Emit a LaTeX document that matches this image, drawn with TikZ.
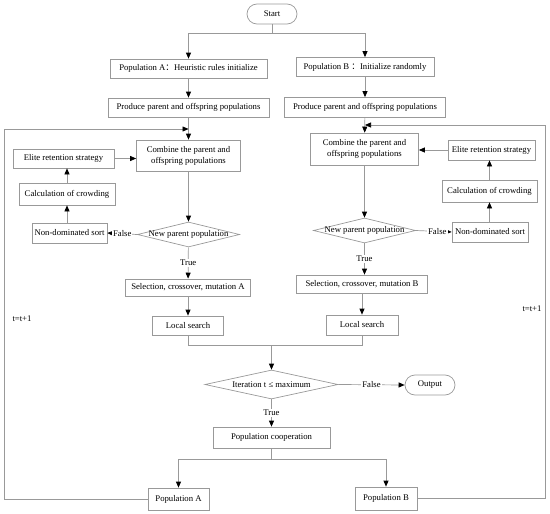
\documentclass[tikz,border=0pt]{standalone}
\usepackage{fontspec}
\setmainfont{Liberation Serif}
\newfontfamily\cjk{Noto Sans CJK SC}
\usetikzlibrary{arrows.meta,shapes.geometric,calc}
\definecolor{lncol}{gray}{0.6}
\begin{document}
\begin{tikzpicture}[x=1pt,y=-1pt,
  every node/.style={font=\fontsize{8.7}{11}\selectfont},
  box/.style={draw=lncol, line width=0.7pt, inner sep=0pt, align=center},
  term/.style={box, rounded corners=10pt},
  dia/.style={draw=lncol, line width=0.7pt, shape=diamond, inner sep=0pt},
  conn/.style={draw=lncol, line width=0.7pt},
  arr/.style={conn, -{Triangle[length=6pt,width=5pt,color=black]}},
  lab/.style={fill=white, inner sep=1pt}
]
\useasboundingbox (0,0) rectangle (550,514);

% top
\node[term, minimum width=50pt, minimum height=20pt] (start) at (272,14) {Start};
\node[box, minimum width=157pt, minimum height=19pt] (popA) at (188.5,68.5) {Population A{\cjk ：}Heuristic rules initialize};
\node[box, minimum width=138pt, minimum height=19pt] (popB) at (365,67) {Population B {\cjk ：}Initialize randomly};
\node[box, minimum width=161pt, minimum height=19pt] (prodA) at (188.5,107.5) {Produce parent and offspring populations};
\node[box, minimum width=161pt, minimum height=20pt] (prodB) at (365,107.5) {Produce parent and offspring populations};

% column A
\node[box, minimum width=104pt, minimum height=31pt] (combA) at (188.5,155.5) {Combine the parent and\\offspring populations};
\node[box, minimum width=101pt, minimum height=19pt] (eliteA) at (63.5,158.5) {Elite retention strategy};
\node[box, minimum width=96pt, minimum height=22pt] (calcA) at (67,194) {Calculation of crowding};
\node[box, minimum width=75pt, minimum height=20pt] (ndA) at (69.5,233) {Non-dominated sort};
\node[dia, minimum width=102pt, minimum height=25pt] (diaA) at (188.5,234.5) {};
\node (diaAt) at (diaA) {New parent population};
\node[box, minimum width=125pt, minimum height=17pt] (selA) at (188,287.5) {Selection, crossover, mutation A};
\node[box, minimum width=71pt, minimum height=19pt] (localA) at (188,325.5) {Local search};

% column B
\node[box, minimum width=108pt, minimum height=32pt] (combB) at (364.5,149) {Combine the parent and\\offspring populations};
\node[box, minimum width=87pt, minimum height=20pt] (eliteB) at (491.5,150) {Elite retention strategy};
\node[box, minimum width=95pt, minimum height=22pt] (calcB) at (489.5,191) {Calculation of crowding};
\node[box, minimum width=76pt, minimum height=20pt] (ndB) at (490,232) {Non-dominated sort};
\node[dia, minimum width=102pt, minimum height=25pt] (diaB) at (364.5,230.5) {};
\node (diaBt) at (diaB) {New parent population};
\node[box, minimum width=131pt, minimum height=18pt] (selB) at (362,284) {Selection, crossover, mutation B};
\node[box, minimum width=72pt, minimum height=20pt] (localB) at (362,325) {Local search};

% bottom
\node[dia, minimum width=133pt, minimum height=29pt] (iter) at (271.5,384.5) {};
\node (itert) at (iter) {Iteration t ≤ maximum};
\node[term, minimum width=50pt, minimum height=20pt] (out) at (430,385) {Output};
\node[box, minimum width=117pt, minimum height=21pt] (coop) at (271.5,437.5) {Population cooperation};
\node[box, minimum width=61pt, minimum height=22pt] (popAf) at (178.5,499) {Population A};
\node[box, minimum width=62pt, minimum height=23pt] (popBf) at (386,498.5) {Population B};

\node (tA) at (22,319) {t=t+1};
\node (tB) at (532,309) {t=t+1};

% coordinates
\coordinate (j1) at (272,33);
\coordinate (jA) at (188.5,129);
\coordinate (cA) at (4,129);
\coordinate (jB) at (365,125);
\coordinate (cB) at (545,125);
\coordinate (m) at (271.5,345);
\coordinate (s) at (271.5,459);

% connectors top
\draw[conn] (start.south) -- (j1);
\draw[arr] (j1) -| (popA.north);
\draw[arr] (j1) -| (popB.north);
\draw[arr] (popA) -- (prodA);
\draw[arr] (popB) -- (prodB);
\draw[arr] (prodA) -- (combA);
\draw[arr] (prodB) -- (combB);

% loop A
\draw[arr] (combA) -- (diaA);
\draw[arr] (diaA.west) -- node[lab] {False} (ndA.east);
\draw[arr] (ndA.north -| calcA.south) -- (calcA.south);
\draw[arr] (calcA) -- (eliteA.south -| calcA.north);
\draw[arr] (eliteA.east) -- (eliteA.east -| combA.west);
\draw[arr] (diaA) -- node[lab] {True} (selA);
\draw[arr] (selA) -- (localA);

% loop B
\draw[arr] (combB) -- (diaB);
\draw[arr] (diaB.east) -- node[lab, pos=0.6] {False} (ndB.west);
\draw[arr] (ndB.north -| calcB.south) -- (calcB.south);
\draw[arr] (calcB) -- (eliteB.south -| calcB.north);
\draw[arr] (eliteB.west) -- (eliteB.west -| combB.east);
\draw[arr] (diaB.south) -- node[lab] {True} (diaB.south |- selB.north);
\draw[arr] (selB) -- (localB);

% merge
\draw[conn] (localA.south) |- (m);
\draw[conn] (localB.south) |- (m);
\draw[arr] (m) -- (iter.north);
\draw[arr] (iter.east) -- node[lab] {False} (out.west);
\draw[arr] (iter.south) -- node[lab] {True} (coop.north);
\draw[conn] (coop.south) -- (s);
\draw[arr] (s) -| (popAf.north);
\draw[arr] (s) -| (popBf.north);

% feedback loops
\draw[arr] (popAf.west) -| (cA) -- (jA);
\draw[arr] (popBf.east) -| (cB) -- (jB);
\end{tikzpicture}
\end{document}
